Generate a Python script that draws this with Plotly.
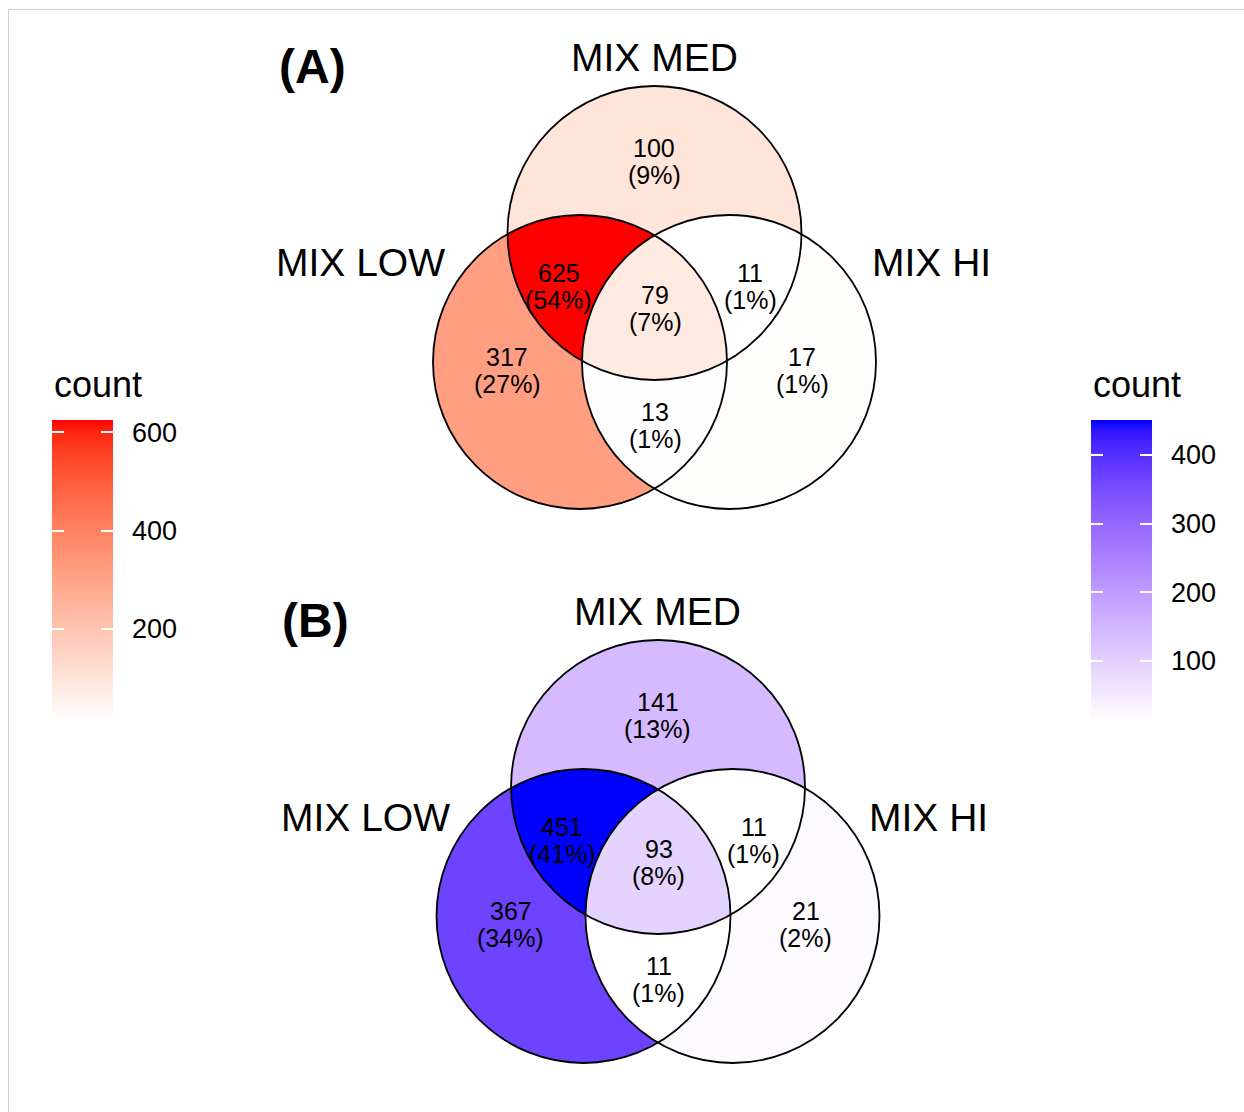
import numpy as np
import plotly.graph_objects as go

# ---------------- data ----------------
set_names = ["MIX LOW", "MIX MED", "MIX HI"]
# region membership in (LOW, MED, HI)
region_members = [(1, 0, 0), (0, 1, 0), (0, 0, 1), (1, 1, 0), (0, 1, 1), (1, 0, 1), (1, 1, 1)]
counts_A = [317, 100, 17, 625, 11, 13, 79]
pct_A = ["27%", "9%", "1%", "54%", "1%", "1%", "7%"]
counts_B = [367, 141, 21, 451, 11, 11, 93]
pct_B = ["34%", "13%", "2%", "41%", "1%", "1%", "8%"]
ticks_A = [200, 400, 600]
ticks_B = [100, 200, 300, 400]
panel_titles = ["(A)", "(B)"]

# ---------------- layout constants ----------------
W, H = 1244, 1112
FONT = "Liberation Sans, Arial, Helvetica, sans-serif"
R = 147.0
circle_centers = [(580.0, 362.0), (654.5, 233.0), (729.0, 362.0)]  # LOW, MED, HI (panel A)
panel_offsets = [(0.0, 0.0), (3.5, 554.0)]
label_pos = [(507, 357), (654, 148), (802, 357), (558.5, 273), (750, 273), (655, 412), (655, 295)]
set_label_pos = [
    [(360, 262), (654, 57), (931, 262)],
    [(365, 817), (657, 611), (928, 817)],
]
title_pos = [(312, 66), (315, 620)]


# ---------------- Lab interpolation (as ggplot2 gradients) ----------------
def _lin(c):
    c = c / 255.0
    return c / 12.92 if c <= 0.04045 else ((c + 0.055) / 1.055) ** 2.4


def _unlin(c):
    v = 12.92 * c if c <= 0.0031308 else 1.055 * c ** (1 / 2.4) - 0.055
    return int(max(0, min(255, round(v * 255))))


_M = np.array([[0.4124564, 0.3575761, 0.1804375],
               [0.2126729, 0.7151522, 0.0721750],
               [0.0193339, 0.1191920, 0.9503041]])
_Minv = np.linalg.inv(_M)
_WN = np.array([0.95047, 1.0, 1.08883])
_d = 6 / 29


def _f(t):
    return t ** (1 / 3) if t > _d ** 3 else t / (3 * _d ** 2) + 4 / 29


def _finv(t):
    return t ** 3 if t > _d else 3 * _d ** 2 * (t - 4 / 29)


def rgb2lab(rgb):
    xyz = _M @ np.array([_lin(c) for c in rgb]) / _WN
    fx, fy, fz = (_f(v) for v in xyz)
    return np.array([116 * fy - 16, 500 * (fx - fy), 200 * (fy - fz)])


def lab2rgb(lab):
    L, a, b = lab
    fy = (L + 16) / 116
    fx = fy + a / 500
    fz = fy - b / 200
    xyz = np.array([_finv(fx), _finv(fy), _finv(fz)]) * _WN
    lin = _Minv @ xyz
    return tuple(_unlin(c) for c in lin)


def lab_scale(lo, hi, n=31):
    l0, l1 = rgb2lab(lo), rgb2lab(hi)
    out = []
    for t in np.linspace(0, 1, n):
        r, g, b = lab2rgb(l0 + (l1 - l0) * t)
        out.append([float(t), f"rgb({r},{g},{b})"])
    return out


scale_red = lab_scale((255, 255, 255), (255, 0, 0))
scale_blue = lab_scale((255, 255, 255), (0, 0, 255))
scale_clear = [[0, "rgba(0,0,0,0)"], [1, "rgba(0,0,0,0)"]]

# ---------------- figure ----------------
fig = go.Figure()
shapes = []
annotations = []

panels = [(counts_A, pct_A, "coloraxis"), (counts_B, pct_B, "coloraxis2")]
for p, (counts, pcts, cax) in enumerate(panels):
    dx, dy = panel_offsets[p]
    cents = [(cx + dx, cy + dy) for cx, cy in circle_centers]
    x0 = int(np.floor(min(c[0] for c in cents) - R)) - 2
    x1 = int(np.ceil(max(c[0] for c in cents) + R)) + 2
    y0 = int(np.floor(min(c[1] for c in cents) - R)) - 2
    y1 = int(np.ceil(max(c[1] for c in cents) + R)) + 2
    xs = np.arange(x0, x1) + 0.5
    ys = np.arange(y0, y1) + 0.5
    XX, YY = np.meshgrid(xs, ys)
    inside = [((XX - cx) ** 2 + (YY - cy) ** 2) <= R ** 2 for cx, cy in cents]
    z = np.full(XX.shape, np.nan)
    for mem, cnt in zip(region_members, counts):
        m = np.ones(XX.shape, bool)
        for k in range(3):
            m &= inside[k] if mem[k] else ~inside[k]
        z[m] = cnt
    zl = [[None if np.isnan(v) else int(v) for v in row] for row in z]
    fig.add_trace(go.Heatmap(x=xs.tolist(), y=ys.tolist(), z=zl, coloraxis=cax,
                             hoverinfo="skip", zsmooth=False))
    for cx, cy in cents:
        shapes.append(dict(type="circle", xref="x", yref="y", x0=cx - R, x1=cx + R,
                           y0=cy - R, y1=cy + R, line=dict(color="black", width=1.8),
                           fillcolor="rgba(0,0,0,0)", layer="above"))
    for (lx, ly), cnt, pc in zip(label_pos, counts, pcts):
        lx, ly = lx + dx, ly + dy
        annotations.append(dict(x=lx, y=ly, text=str(cnt), showarrow=False,
                                xref="x", yref="y", xanchor="center", yanchor="middle",
                                font=dict(size=25, color="black", family=FONT)))
        annotations.append(dict(x=lx, y=ly + 27, text=f"({pc})", showarrow=False,
                                xref="x", yref="y", xanchor="center", yanchor="middle",
                                font=dict(size=25, color="black", family=FONT)))
    for (sx, sy), name in zip(set_label_pos[p], set_names):
        annotations.append(dict(x=sx, y=sy, text=name, showarrow=False, xref="x", yref="y",
                                xanchor="center", yanchor="middle",
                                font=dict(size=39, color="black", family=FONT)))
    tx, ty = title_pos[p]
    annotations.append(dict(x=tx, y=ty, text=f"<b>{panel_titles[p]}</b>", showarrow=False,
                            xref="x", yref="y", xanchor="center", yanchor="middle",
                            font=dict(size=48, color="black", family=FONT)))

# colorbars
BAR_TOP, BAR_LEN, BAR_THICK, TICK_LEN = 420.0, 302.0, 61.0, 12
bar_lefts = [52.0, 1091.0]
coloraxes = {}
ax_id = 3
for i, (counts, ticks, cs) in enumerate([(counts_A, ticks_A, scale_red), (counts_B, ticks_B, scale_blue)]):
    left = bar_lefts[i]
    cmin, cmax = min(counts), max(counts)
    common = dict(xanchor="left", xpad=0, xref="paper",
                  y=1 - (BAR_TOP + BAR_LEN / 2) / H, yanchor="middle", ypad=0, yref="paper",
                  len=BAR_LEN, lenmode="pixels", thicknessmode="pixels",
                  outlinewidth=0, tickmode="array", tickvals=ticks)
    # main bar with labels
    coloraxes["coloraxis" if i == 0 else "coloraxis2"] = dict(
        colorscale=cs, cmin=cmin, cmax=cmax,
        colorbar=dict(x=left / W, thickness=BAR_THICK, ticks="outside", ticklen=14,
                      tickcolor="rgba(0,0,0,0)",
                      tickfont=dict(size=27, color="black", family=FONT), **common))
    # white tick marks inside the bar, on its right and left edges (ggplot style)
    for bx, th in [(left, BAR_THICK), (left, TICK_LEN)]:
        name = f"coloraxis{ax_id}"
        coloraxes[name] = dict(
            colorscale=scale_clear, cmin=cmin, cmax=cmax,
            colorbar=dict(x=bx / W, thickness=th, ticks="inside", ticklen=TICK_LEN,
                          tickcolor="white", tickwidth=1.5, showticklabels=False, **common))
        fig.add_trace(go.Scatter(x=[-100, -100], y=[-100, -100], mode="markers",
                                 marker=dict(size=1, color=[cmin, cmax], coloraxis=name),
                                 hoverinfo="skip", showlegend=False))
        ax_id += 1
    annotations.append(dict(x=left, y=BAR_TOP - 13, text="count", showarrow=False, xref="x", yref="y",
                            xanchor="left", yanchor="bottom",
                            font=dict(size=36, color="black", family=FONT)))

# light frame
shapes.append(dict(type="rect", xref="x", yref="y", x0=8.5, y0=9.5, x1=W + 20, y1=H + 20,
                   line=dict(color="#d0d0d0", width=1), fillcolor="rgba(0,0,0,0)", layer="below"))

fig.update_layout(
    width=W, height=H, margin=dict(l=0, r=0, t=0, b=0),
    paper_bgcolor="white", plot_bgcolor="white", showlegend=False,
    xaxis=dict(range=[0, W], visible=False, fixedrange=True),
    yaxis=dict(range=[H, 0], visible=False, fixedrange=True),
    shapes=shapes, annotations=annotations,
    **coloraxes,
)

fig.write_html("out.html")
